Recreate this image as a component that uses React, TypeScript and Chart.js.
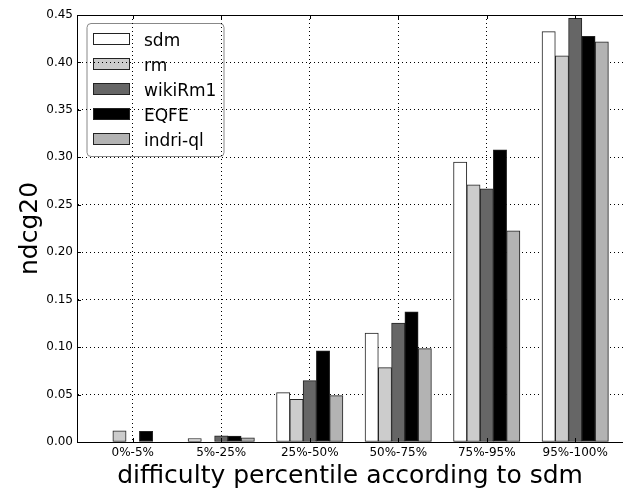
import React, { useEffect, useRef } from "react";
import { Chart, registerables } from "chart.js";

Chart.register(...registerables);

const categories = ["0%-5%", "5%-25%", "25%-50%", "50%-75%", "75%-95%", "95%-100%"];
const seriesNames = ["sdm", "rm", "wikiRm1", "EQFE", "indri-ql"];
const sdm = [0, 0.0035, 0.052, 0.1147, 0.295, 0.4325];
const rm = [0.0119, 0, 0.045, 0.0784, 0.2711, 0.407];
const wikiRm1 = [0, 0.0066, 0.0647, 0.1252, 0.2669, 0.4466];
const eqfe = [0.0113, 0.0063, 0.096, 0.1371, 0.308, 0.4275];
const indriQl = [0, 0.0045, 0.0489, 0.0984, 0.2226, 0.4216];
const yTicks = [0, 0.05, 0.1, 0.15, 0.2, 0.25, 0.3, 0.35, 0.4, 0.45];
const fills = ["#ffffff", "#cccccc", "#666666", "#000000", "#b3b3b3"];

const FAMILY = '"DejaVu Sans", sans-serif';
const BAR_STEP = 0.15;

const boxLegend = {
  id: "boxLegend",
  beforeDraw(chart: any) {
    const { ctx, chartArea } = chart;
    const x0 = chartArea.left + 10;
    const y0 = chartArea.top + 8.5;
    const w = 137;
    const h = 133;
    const r = 4;
    ctx.save();
    ctx.beginPath();
    ctx.moveTo(x0 + r, y0);
    ctx.lineTo(x0 + w - r, y0);
    ctx.arcTo(x0 + w, y0, x0 + w, y0 + r, r);
    ctx.lineTo(x0 + w, y0 + h - r);
    ctx.arcTo(x0 + w, y0 + h, x0 + w - r, y0 + h, r);
    ctx.lineTo(x0 + r, y0 + h);
    ctx.arcTo(x0, y0 + h, x0, y0 + h - r, r);
    ctx.lineTo(x0, y0 + r);
    ctx.arcTo(x0, y0, x0 + r, y0, r);
    ctx.closePath();
    ctx.fillStyle = "#ffffff";
    ctx.fill();
    ctx.strokeStyle = "#888888";
    ctx.lineWidth = 1;
    ctx.stroke();
    chart.data.datasets.forEach((ds: any, k: number) => {
      const sy = Math.round(y0 + 9 + k * 25) + 0.5;
      const sx = Math.round(x0 + 6) + 0.5;
      ctx.fillStyle = ds.backgroundColor;
      ctx.fillRect(sx, sy, 36, 11);
      ctx.strokeStyle = "#222222";
      ctx.lineWidth = 1;
      ctx.strokeRect(sx, sy, 36, 11);
      ctx.fillStyle = "#000000";
      ctx.font = `17px ${FAMILY}`;
      ctx.textBaseline = "alphabetic";
      ctx.textAlign = "left";
      ctx.fillText(ds.label, x0 + 57, sy + 12.5);
    });
    ctx.restore();
  },
  afterDraw(chart: any) {
    const { ctx, chartArea, scales } = chart;
    ctx.save();
    ctx.strokeStyle = "#000000";
    ctx.lineWidth = 1;
    ctx.beginPath();
    const ty = Math.round(chartArea.top) + 0.5;
    ctx.moveTo(chartArea.left, ty);
    ctx.lineTo(chartArea.right, ty);
    scales.y.ticks.forEach((t: any) => {
      const py = Math.round(scales.y.getPixelForValue(t.value)) + 0.5;
      ctx.moveTo(chartArea.left, py);
      ctx.lineTo(chartArea.left + 4, py);
    });
    scales.x.ticks.forEach((t: any) => {
      const px = Math.round(scales.x.getPixelForValue(t.value)) + 0.5;
      ctx.moveTo(px, chartArea.bottom);
      ctx.lineTo(px, chartArea.bottom - 4);
      ctx.moveTo(px, chartArea.top);
      ctx.lineTo(px, chartArea.top + 4);
    });
    ctx.stroke();
    ctx.restore();
  },
};

export default function App() {
  const canvasRef = useRef<HTMLCanvasElement | null>(null);

  useEffect(() => {
    const canvas = canvasRef.current;
    if (!canvas) return;
    const series = [sdm, rm, wikiRm1, eqfe, indriQl];
    const datasets = series.map((vals, k) => ({
      label: seriesNames[k],
      data: vals.map((v, i) => ({ x: i + (k - 2) * BAR_STEP, y: v })),
      backgroundColor: fills[k],
      borderColor: "#222222",
      borderWidth: 1,
      borderSkipped: false,
      grouped: false,
      categoryPercentage: 1,
      barPercentage: 1,
    }));

    const chart = new Chart(canvas, {
      type: "bar",
      data: { datasets } as any,
      plugins: [boxLegend],
      options: {
        responsive: false,
        animation: false,
        devicePixelRatio: 1,
        layout: { padding: { top: 15, left: 0, right: 0, bottom: 0 } },
        plugins: { legend: { display: false }, tooltip: { enabled: false } },
        scales: {
          x: {
            type: "linear",
            offset: false,
            min: -0.63,
            max: 5.54,
            z: 1,
            afterBuildTicks: (s: any) => {
              s.ticks = categories.map((_, i) => ({ value: i }));
            },
            afterFit: (s: any) => {
              s.height = 47;
            },
            ticks: {
              callback: (v: any) => categories[v] ?? "",
              font: { size: 12, family: FAMILY },
              color: "#000000",
              padding: 4,
              maxRotation: 0,
              autoSkip: false,
            },
            grid: { color: "#000000", lineWidth: 1, drawTicks: false, offset: false },
            border: { display: true, color: "#000000", width: 1, dash: [1, 3] },
            title: {
              display: true,
              text: "difficulty percentile according to sdm",
              font: { size: 25, family: FAMILY },
              color: "#000000",
              padding: { top: 0, bottom: -2 },
            },
          },
          y: {
            type: "linear",
            min: 0,
            max: 0.45,
            afterBuildTicks: (s: any) => {
              s.ticks = yTicks.map((v) => ({ value: v }));
            },
            afterFit: (s: any) => {
              s.width = 77;
            },
            ticks: {
              callback: (v: any) => Number(v).toFixed(2),
              font: { size: 12, family: FAMILY },
              color: "#000000",
              padding: 4,
            },
            grid: { color: "#000000", lineWidth: 1, drawTicks: false },
            border: { display: true, color: "#000000", width: 1, dash: [1, 3] },
            title: {
              display: true,
              text: "ndcg20",
              font: { size: 25, family: FAMILY },
              color: "#000000",
              padding: { top: 15, bottom: 0 },
            },
          },
        },
      } as any,
    });
    return () => chart.destroy();
  }, []);

  return (
    <div style={{ position: "absolute", left: 0, top: 0, width: 623, height: 489, background: "#ffffff" }}>
      <canvas ref={canvasRef} width={623} height={489} style={{ display: "block" }} />
    </div>
  );
}
